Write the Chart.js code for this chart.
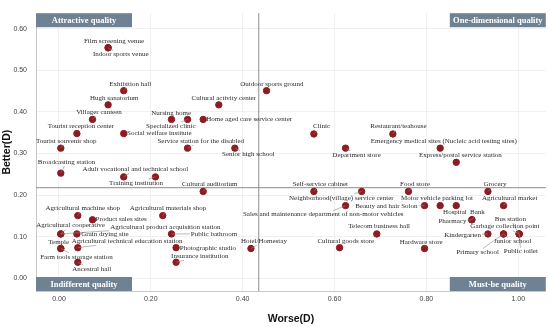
<!DOCTYPE html>
<html>
<head>
<meta charset="utf-8">
<script src="https://cdn.jsdelivr.net/npm/chart.js@4.4.1/dist/chart.umd.min.js"></script>
<style>
  html, body { margin: 0; padding: 0; background: #fff; }
  #wrap { width: 550px; height: 327px; position: relative; }
</style>
</head>
<body>
<div id="wrap"><canvas id="kano-chart"></canvas></div>
<script>
// facility names, Worse(D) on x, Better(D) on y
const names = [
  "Film screening venue", "Indoor sports venue", "Exhibition hall", "Hugh sanatorium",
  "Villager canteen", "Tourist reception center", "Social welfare institute", "Tourist souvenir shop",
  "Nursing home", "Specialized clinic", "Home aged care service center", "Cultural activity center",
  "Service station for the disabled", "Senior high school", "Broadcasting station",
  "Adult vocational and technical school", "Training institution",
  "Outdoor sports ground", "Clinic", "Restaurant/teahouse",
  "Emergency medical sites (Nucleic acid testing sites)", "Department store", "Express/postal service station",
  "Cultural auditorium", "Agricultural machine shop", "Product sales sites", "Agricultural materials shop",
  "Agricultural cooperative", "Agricultural product acquisition station", "Grain drying site", "Public bathroom",
  "Temple", "Farm tools storage station", "Agricultural technical education station", "Ancestral hall",
  "Photographic studio", "Insurance institution", "Hotel/Homestay",
  "Self-service cabinet", "Neighborhood(village) service center", "Food store", "Grocery",
  "Sales and maintenance department of non-motor vehicles", "Beauty and hair Solon",
  "Motor vehicle parking lot", "Hospital", "Agricultural market", "Bank", "Pharmacy",
  "Telecom business hall", "Kindergarten", "Junior school", "Primary school",
  "Bus station", "Garbage collection point", "Public toilet", "Cultural goods store", "Hardware store"
];
const worse = [
  0.107, 0.107, 0.141, 0.107, 0.073, 0.039, 0.141, 0.004,
  0.245, 0.280, 0.314, 0.348, 0.280, 0.383, 0.004, 0.141, 0.210,
  0.452, 0.555, 0.727, 0.830, 0.624, 0.865,
  0.314, 0.041, 0.073, 0.226, 0.004, 0.004, 0.039, 0.245,
  0.004, 0.004, 0.041, 0.041, 0.255, 0.255, 0.418,
  0.555, 0.659, 0.761, 0.934, 0.624, 0.796, 0.830, 0.865, 0.968, 0.899, 0.899,
  0.692, 0.934, 0.968, 0.968, 1.002, 1.002, 1.002, 0.611, 0.796
];
const better = [
  0.554, 0.554, 0.451, 0.417, 0.382, 0.348, 0.348, 0.313,
  0.382, 0.382, 0.382, 0.417, 0.313, 0.313, 0.253, 0.244, 0.244,
  0.451, 0.347, 0.347, 0.313, 0.313, 0.279,
  0.209, 0.151, 0.141, 0.151, 0.107, 0.107, 0.107, 0.107,
  0.072, 0.072, 0.074, 0.039, 0.074, 0.039, 0.072,
  0.209, 0.209, 0.209, 0.209, 0.175, 0.175, 0.175, 0.175, 0.175, 0.141, 0.141,
  0.107, 0.107, 0.107, 0.107, 0.107, 0.107, 0.107, 0.074, 0.072
];
const xTicks = [0, 0.2, 0.4, 0.6, 0.8, 1.0];
const yTicks = [0, 0.1, 0.2, 0.3, 0.4, 0.5, 0.6];
const worseMean = 0.435;
const betterMean = 0.218;
const quadrants = ["Attractive quality", "One-dimensional quality", "Indifferent quality", "Must-be quality"];

// label placement: [dx, dy, anchor] in px from the point (c = centre, l = left edge, r = right edge)
const labelPos = [
  [5.9, -7, "c"], [12.6, 6.7, "c"], [6.5, -7, "c"], [6.1, -7, "c"],
  [6.5, -7.3, "c"], [4, -7, "c"], [3.4, 0, "l"], [5.4, -7.3, "c"],
  [-0.3, -6.3, "c"], [-16.7, 6.7, "c"], [3, 0, "l"], [5, -7, "c"],
  [13.2, -7, "c"], [13.5, 6.4, "c"], [5.7, -11, "c"],
  [11.7, -7.3, "c"], [-19.3, 6.3, "c"],
  [5.3, -7, "c"], [7.7, -7.4, "c"], [5.6, -7.4, "c"],
  [3.7, -7.3, "c"], [11, 6.7, "c"], [4.2, -7, "c"],
  [6.6, -7.4, "c"], [5, -7.4, "c"], [3, -1, "l"], [5.2, -7.4, "c"],
  [9.7, -8.4, "c"], [49.4, -7, "l"], [4.4, 0, "l"], [19.3, 0, "l"],
  [-2.1, -6.3, "c"], [15.6, 8.4, "c"], [-6, -6.4, "l"], [13.9, 6.6, "c"],
  [3.7, 0, "l"], [23.7, -6, "c"], [13, -7.3, "c"],
  [6.5, -7.4, "c"], [-20.3, 6.3, "c"], [6.5, -7.4, "c"], [7, -7.4, "c"],
  [-22.3, 9, "c"], [-7, 0.7, "r"], [-3.2, -7.3, "c"], [-1.3, 6.7, "c"],
  [6.1, -7.6, "c"], [5.6, -7.3, "c"], [-5.4, 1, "r"],
  [2.4, -7.7, "c"], [-7, 1, "r"], [9.1, 7.7, "c"], [-26, 18.4, "c"],
  [-8.8, -15, "c"], [-14.2, -7.3, "c"], [1.7, 17.7, "c"], [6.2, -6.7, "c"], [-3.3, -6.3, "c"]
];

const quadrantLines = {
  id: "quadrantLines",
  beforeDatasetsDraw(chart) {
    const { ctx, chartArea: a, scales: { x, y } } = chart;
    const vx = x.getPixelForValue(worseMean);
    const hy = y.getPixelForValue(betterMean);
    ctx.save();
    ctx.strokeStyle = "#8c8c8c";
    ctx.lineWidth = 1;
    ctx.beginPath();
    ctx.moveTo(vx, a.top);
    ctx.lineTo(vx, a.bottom);
    ctx.moveTo(a.left, hy);
    ctx.lineTo(a.right, hy);
    ctx.stroke();
    ctx.restore();
  },
  afterDatasetsDraw(chart) {
    const { ctx, chartArea: a } = chart;
    const w = 96, h = 14;
    const spots = [
      [a.left, a.top], [a.right - w, a.top],
      [a.left, a.bottom - h], [a.right - w, a.bottom - h]
    ];
    ctx.save();
    ctx.font = "bold 8.5px 'Liberation Serif'";
    ctx.textAlign = "center";
    ctx.textBaseline = "middle";
    spots.forEach(([bx, by], i) => {
      ctx.fillStyle = "#6f8294";
      ctx.fillRect(bx, by, w, h);
      ctx.fillStyle = "#ffffff";
      ctx.fillText(quadrants[i], bx + w / 2, by + h / 2 + 0.5);
    });
    ctx.restore();
  }
};

const pointLabels = {
  id: "pointLabels",
  afterDatasetsDraw(chart) {
    const { ctx, scales: { x, y } } = chart;
    ctx.save();
    ctx.font = "7px 'Liberation Serif'";
    ctx.textBaseline = "middle";
    ctx.textAlign = "left";
    const items = names.map((name, i) => {
      const px = x.getPixelForValue(worse[i]);
      const py = y.getPixelForValue(better[i]);
      const [dx, dy, al] = labelPos[i];
      const w = ctx.measureText(name).width;
      const left = al === "l" ? px + dx : al === "r" ? px + dx - w : px + dx - w / 2;
      return { name, px, py, left, w, cy: py + dy };
    });
    // leader segments, drawn toward label centre and stopped at its box
    ctx.strokeStyle = "#8a8a8a";
    ctx.lineWidth = 0.6;
    items.forEach(it => {
      const x0 = it.left - 1, x1 = it.left + it.w + 1, y0 = it.cy - 4, y1 = it.cy + 4;
      const vx = it.left + it.w / 2 - it.px, vy = it.cy - it.py;
      const tx = vx > 0 ? (x0 - it.px) / vx : vx < 0 ? (x1 - it.px) / vx : -Infinity;
      const ty = vy > 0 ? (y0 - it.py) / vy : vy < 0 ? (y1 - it.py) / vy : -Infinity;
      const t = Math.max(tx, ty);
      if (t <= 0) return;
      const len = t * Math.hypot(vx, vy);
      if (len < 4) return;
      ctx.beginPath();
      ctx.moveTo(it.px, it.py);
      ctx.lineTo(it.px + t * vx, it.py + t * vy);
      ctx.stroke();
    });
    ctx.fillStyle = "#2b2b2b";
    items.forEach(it => ctx.fillText(it.name, it.left, it.cy));
    ctx.restore();
  }
};

new Chart(document.getElementById("kano-chart"), {
  type: "scatter",
  data: {
    datasets: [{
      data: worse.map((v, i) => ({ x: v, y: better[i] })),
      backgroundColor: "#8e1b22",
      borderColor: "#8e1b22",
      pointRadius: 3.2,
      pointHoverRadius: 3.2,
    }],
  },
  options: {
    responsive: true,
    maintainAspectRatio: false,
    animation: false,
    layout: { padding: { top: 6, right: 4, left: 0, bottom: 0 } },
    plugins: { legend: { display: false }, tooltip: { enabled: false } },
    scales: {
      x: {
        type: "linear",
        min: -0.05,
        max: 1.06,
        afterBuildTicks: s => { s.ticks = xTicks.map(v => ({ value: v })); },
        afterFit: s => { s.height = 36; },
        grid: { color: "#ececec", lineWidth: 0.8, drawTicks: false },
        border: { color: "#c8c8c8" },
        ticks: {
          padding: 4,
          color: "#444",
          font: { family: "'Liberation Sans'", size: 7 },
          callback: v => Number(v).toFixed(2),
        },
        title: {
          display: true,
          text: "Worse(D)",
          color: "#111",
          font: { family: "'Liberation Sans'", size: 10.5, weight: "bold" },
          padding: { top: 0, bottom: 1.5 },
        },
      },
      y: {
        type: "linear",
        min: -0.03,
        max: 0.637,
        afterBuildTicks: s => { s.ticks = yTicks.map(v => ({ value: v })); },
        afterFit: s => { s.width = 36; },
        grid: { color: "#ececec", lineWidth: 0.8, drawTicks: false },
        border: { color: "#c8c8c8" },
        ticks: {
          padding: 9,
          color: "#444",
          font: { family: "'Liberation Sans'", size: 7 },
          callback: v => Number(v).toFixed(2),
        },
        title: {
          display: true,
          text: "Better(D)",
          color: "#111",
          font: { family: "'Liberation Sans'", size: 10.5, weight: "bold" },
          padding: { top: 1, bottom: 0 },
        },
      },
    },
  },
  plugins: [quadrantLines, pointLabels],
});
</script>
</body>
</html>
